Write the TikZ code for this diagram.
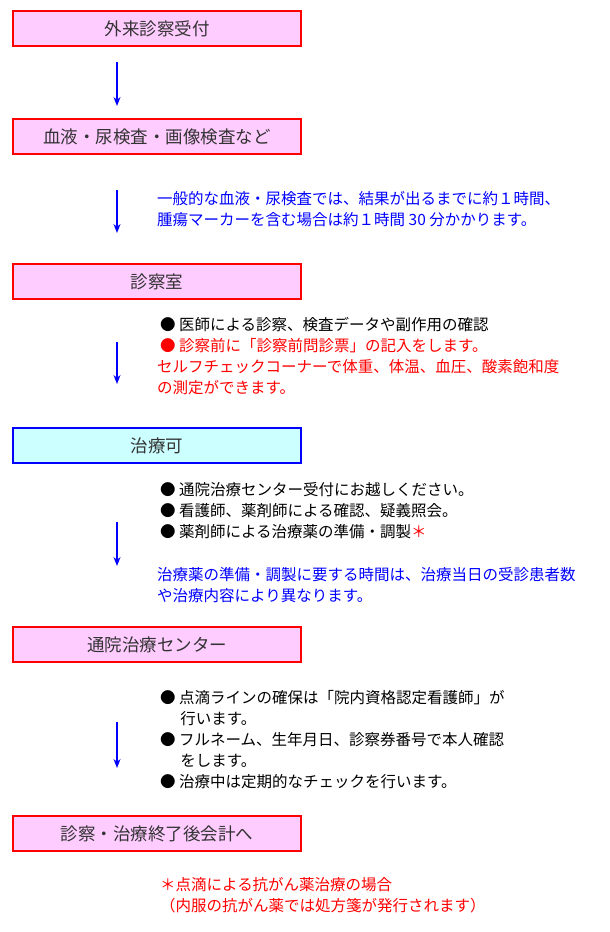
\documentclass[tikz,border=0pt]{standalone}
\usepackage{fontspec}
\usetikzlibrary{arrows.meta}
\setmainfont{Noto Sans CJK JP}
\definecolor{boxpink}{HTML}{FFCCFF}
\definecolor{boxcyan}{HTML}{CCFFFF}
\definecolor{txtblue}{HTML}{0000FF}
\definecolor{txtred}{HTML}{FF0000}
\tikzset{
	stepbox/.style={draw=red, line width=2.5pt, fill=boxpink, minimum width=288pt, minimum height=35pt, inner sep=0pt, font=\fontsize{17.5}{20}\selectfont, text=black!80},
	notes/.style={anchor=north west, align=left, inner sep=0pt, font=\fontsize{15.5}{21}\selectfont},
	flow/.style={draw=txtblue, line width=1.3pt, -{Stealth[length=9pt,width=7pt]}}
}
\begin{document}
\begin{tikzpicture}[x=1pt,y=-1pt]
		\useasboundingbox (0,0) rectangle (610,932);
		\node[stepbox] (uketsuke) at (157,28.5) {外来診察受付};
		\node[stepbox] (kensa) at (157,136.5) {血液・尿検査・画像検査など};
		\node[stepbox] (shinsatsu) at (157,281.5) {診察室};
		\node[stepbox, draw=txtblue, fill=boxcyan] (kanou) at (157,445.5) {治療可};
		\node[stepbox] (center) at (157,644.5) {通院治療センター};
		\node[stepbox] (kaikei) at (157,833.5) {診察・治療終了後会計へ};
		
		\coordinate (a1s) at (117,62); \coordinate (a1e) at (117,106);
		\coordinate (a2s) at (117,190); \coordinate (a2e) at (117,233);
		\coordinate (a3s) at (117,342); \coordinate (a3e) at (117,384);
		\coordinate (a4s) at (117,522); \coordinate (a4e) at (117,566);
		\coordinate (a5s) at (117,722); \coordinate (a5e) at (117,768);
		\foreach \i in {1,...,5}
			\draw[flow] (a\i s) -- (a\i e);
		
		\node[notes, text=txtblue] (memo1) at (157,191) {一般的な血液・尿検査では、結果が出るまでに約１時間、\\腫瘍マーカーを含む場合は約１時間 30 分かかります。};
		
		\node[notes] (memo2) at (160,317) {● 医師による診察、検査データや副作用の確認\\
			\textcolor{txtred}{● 診察前に「診察前問診票」の記入をします。}};
		\node[notes, text=txtred] (memo2b) at (157,359) {セルフチェックコーナーで体重、体温、血圧、酸素飽和度\\の測定ができます。};
		
		\node[notes] (memo3) at (160,482) {● 通院治療センター受付にお越しください。\\
			● 看護師、薬剤師による確認、疑義照会。\\
			● 薬剤師による治療薬の準備・調製\textcolor{txtred}{＊}};
		\node[notes, text=txtblue] (memo3b) at (157,567) {治療薬の準備・調製に要する時間は、治療当日の受診患者数\\や治療内容により異なります。};
		
		\node[notes] (memo4) at (160,690) {● 点滴ラインの確保は「院内資格認定看護師」が\\
			\hspace*{1.3em}行います。\\
			● フルネーム、生年月日、診察券番号で本人確認\\
			\hspace*{1.3em}をします。\\
			● 治療中は定期的なチェックを行います。};
		
		\node[notes, text=txtred] (memo5) at (160,877) {＊点滴による抗がん薬治療の場合\\（内服の抗がん薬では処方箋が発行されます）};
	\end{tikzpicture}
\end{document}
